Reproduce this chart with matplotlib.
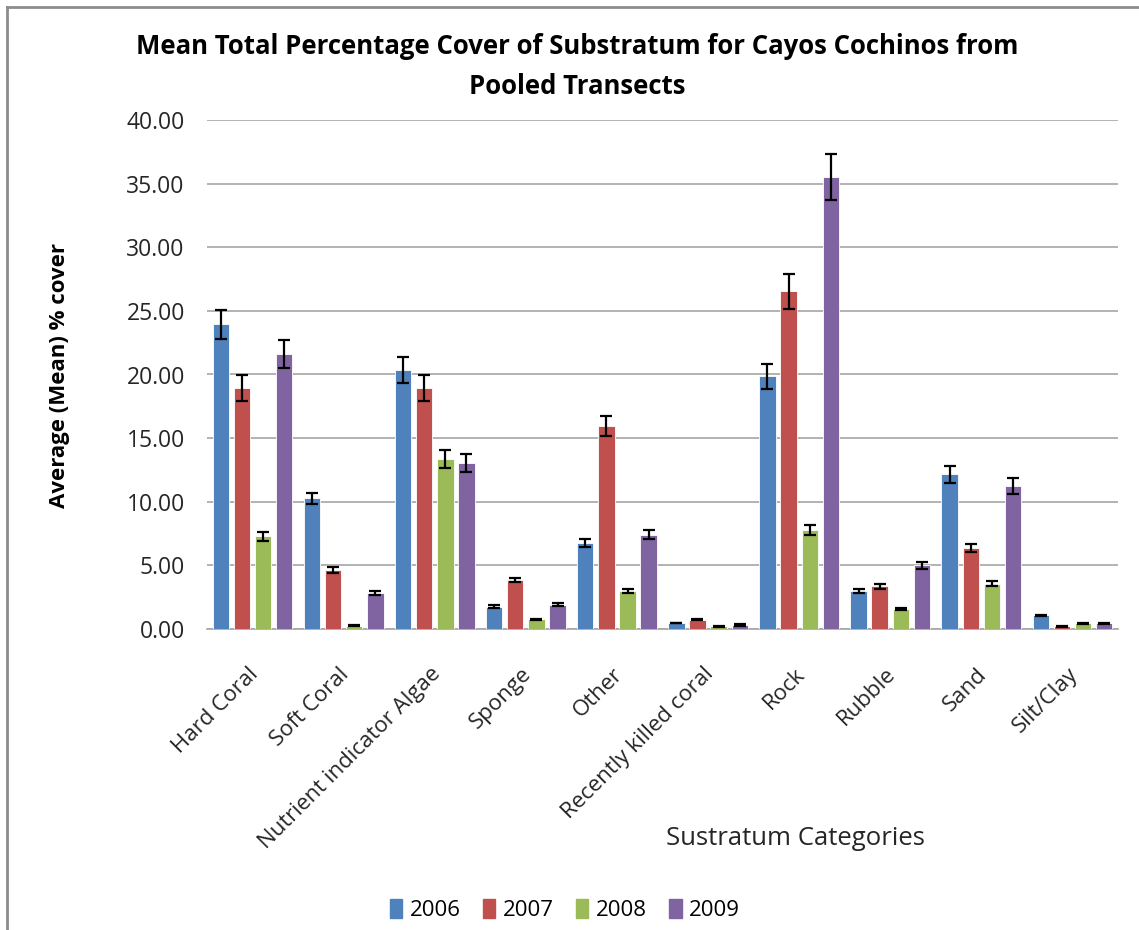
import matplotlib
matplotlib.use("Agg")
import matplotlib.pyplot as plt
import matplotlib.transforms as mtransforms
import numpy as np
from matplotlib.lines import Line2D

plt.rcParams['font.family'] = ['Open Sans', 'DejaVu Sans']

categories = ["Hard Coral", "Soft Coral", "Nutrient indicator Algae", "Sponge", "Other",
              "Recently killed coral", "Rock", "Rubble", "Sand", "Silt/Clay"]
years = ["2006", "2007", "2008", "2009"]
colors = ["#4F81BD", "#C0504D", "#9BBB59", "#8064A2"]

vals_2006 = [23.95, 10.27, 20.35, 1.75, 6.75, 0.47, 19.85, 3.00, 12.15, 1.07]
vals_2007 = [18.95, 4.65, 18.95, 3.85, 15.95, 0.73, 26.55, 3.35, 6.35, 0.22]
vals_2008 = [7.30, 0.27, 13.35, 0.75, 3.00, 0.20, 7.75, 1.60, 3.55, 0.45]
vals_2009 = [21.60, 2.80, 13.07, 1.90, 7.40, 0.32, 35.55, 5.00, 11.25, 0.45]

err_2006 = [1.15, 0.45, 1.05, 0.10, 0.30, 0.03, 1.00, 0.15, 0.68, 0.06]
err_2007 = [1.00, 0.22, 1.00, 0.18, 0.80, 0.05, 1.37, 0.18, 0.30, 0.04]
err_2008 = [0.35, 0.02, 0.72, 0.06, 0.18, 0.02, 0.40, 0.08, 0.20, 0.04]
err_2009 = [1.10, 0.15, 0.70, 0.12, 0.35, 0.05, 1.80, 0.25, 0.65, 0.05]

series = [vals_2006, vals_2007, vals_2008, vals_2009]
errors = [err_2006, err_2007, err_2008, err_2009]

fig = plt.figure(figsize=(11.39, 9.30), dpi=100)
ax = fig.add_axes([207/1139, 1 - 629/930, (1118-207)/1139, (629-120)/930])

x = np.arange(len(categories))
width = 0.18
step = 0.232
for i, (v, e) in enumerate(zip(series, errors)):
    pos = x + (i - 1.5) * step
    ax.bar(pos, v, width, color=colors[i], edgecolor='white', linewidth=0.6,
           label=years[i], zorder=3)
    ax.errorbar(pos, v, yerr=e, fmt='none', ecolor='black', elinewidth=1.6,
                capsize=4, capthick=1.6, zorder=4)

ax.set_ylim(0, 40)
ax.set_xlim(-0.5, len(categories) - 0.5)
ax.set_yticks(np.arange(0, 41, 5))
ax.set_yticklabels([f"{t:.2f}" for t in np.arange(0, 41, 5)], fontsize=16.5,
                   color='#262626')
ax.yaxis.grid(True, color='#A6A6A6', linewidth=1.2, zorder=0)
ax.set_axisbelow(True)
for s in ['top', 'right', 'left']:
    ax.spines[s].set_visible(False)
ax.spines['bottom'].set_color('#A6A6A6')
ax.spines['bottom'].set_linewidth(1.2)
ax.tick_params(axis='both', length=0)
ax.tick_params(axis='y', pad=16)
ax.set_xticks(x)
ax.set_xticklabels(categories, rotation=45, ha='right', rotation_mode='anchor',
                   fontsize=16, color='#262626')
ax.tick_params(axis='x', pad=25)
offset = mtransforms.ScaledTranslation(-5/100, 0, fig.dpi_scale_trans)
for lbl in ax.get_xticklabels():
    lbl.set_transform(lbl.get_transform() + offset)

fig.text(60/1139, 1 - 375/930, "Average (Mean) % cover", fontsize=16,
         fontweight='bold', rotation=90, ha='center', va='center')
fig.text(795/1139, 1 - 838/930, "Sustratum Categories", fontsize=18.5,
         ha='center', va='center', color='#262626')

fig.text(577/1139, 1 - 47/930, "Mean Total Percentage Cover of Substratum for Cayos Cochinos from",
         fontsize=18.5, fontweight='bold', ha='center', va='center')
fig.text(577/1139, 1 - 86/930, "Pooled Transects",
         fontsize=18.5, fontweight='bold', ha='center', va='center')

handles = [plt.Rectangle((0, 0), 1, 1, color=c) for c in colors]
fig.legend(handles, years, loc='center', bbox_to_anchor=(565/1139, 1 - 910/930),
           ncol=4, frameon=False, fontsize=16, handlelength=0.55, handleheight=0.9,
           handletextpad=0.35, columnspacing=1.0)

fig.add_artist(Line2D([7/1139, 7/1139], [0, 1 - 7/930], color='#8C8C8C', linewidth=2,
                      transform=fig.transFigure))
fig.add_artist(Line2D([7/1139, 1], [1 - 7/930, 1 - 7/930], color='#8C8C8C', linewidth=2,
                      transform=fig.transFigure))

fig.savefig("out.png", dpi=100)
